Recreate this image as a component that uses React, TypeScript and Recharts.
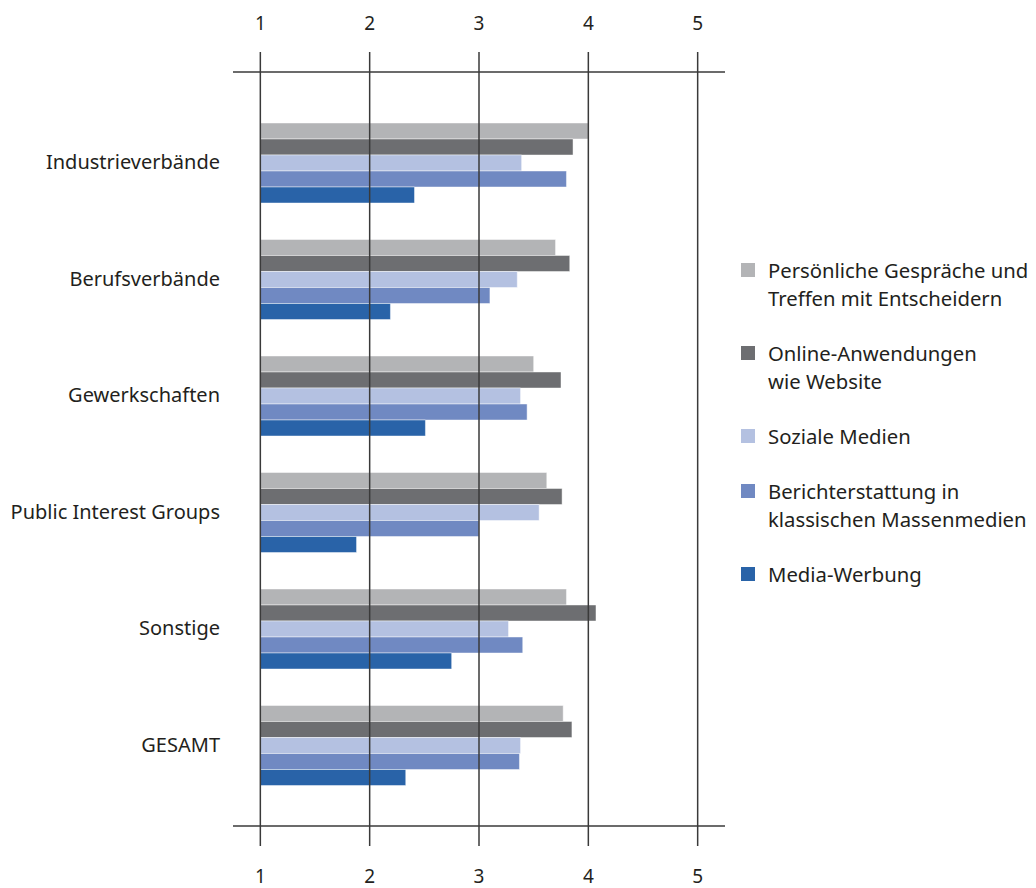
import { Bar, BarChart, Legend, ReferenceLine, XAxis, YAxis } from "recharts";

// Bewertung der Kommunikationskanäle (1 = gering … 5 = hoch), je Verbandstyp
const CATEGORIES = [
  "Industrieverbände",
  "Berufsverbände",
  "Gewerkschaften",
  "Public Interest Groups",
  "Sonstige",
  "GESAMT",
];
const PERSOENLICH = [4.0, 3.7, 3.5, 3.62, 3.8, 3.77];
const ONLINE = [3.86, 3.83, 3.75, 3.76, 4.07, 3.85];
const SOZIALE = [3.39, 3.35, 3.38, 3.55, 3.27, 3.38];
const BERICHT = [3.8, 3.1, 3.44, 3.0, 3.4, 3.37];
const WERBUNG = [2.41, 2.19, 2.51, 1.88, 2.75, 2.33];
const TICKS = [1, 2, 3, 4, 5];

const FONT = "'Noto Sans', sans-serif";
const INK = "#231f20";
const LINE = "#3a3a3a";

const SERIES = [
  { key: "persoenlich", label: ["Persönliche Gespräche und", "Treffen mit Entscheidern"], color: "#b3b4b6" },
  { key: "online", label: ["Online-Anwendungen", "wie Website"], color: "#6d6e71" },
  { key: "soziale", label: ["Soziale Medien"], color: "#b4c1e1" },
  { key: "bericht", label: ["Berichterstattung in", "klassischen Massenmedien"], color: "#7089c2" },
  { key: "werbung", label: ["Media-Werbung"], color: "#2963a8" },
];

const data = CATEGORIES.map((name, i) => ({
  name,
  persoenlich: PERSOENLICH[i],
  online: ONLINE[i],
  soziale: SOZIALE[i],
  bericht: BERICHT[i],
  werbung: WERBUNG[i],
}));

// Balken beginnen bei 1 (Skalenanfang), die Achse reicht links/rechts etwas darüber hinaus
const DOMAIN: [number, number] = [0.75, 5.25];

function KanalLegend() {
  return (
    <div style={{ fontFamily: FONT, fontSize: 20.3, color: INK, lineHeight: "28px" }}>
      {SERIES.map((s) => (
        <div key={s.key} style={{ display: "flex", alignItems: "flex-start", marginBottom: 27 }}>
          <span
            style={{
              width: 14,
              height: 14,
              background: s.color,
              marginTop: 7,
              marginRight: 13,
              flex: "none",
            }}
          />
          <div>
            {s.label.map((l) => (
              <div key={l} style={{ whiteSpace: "nowrap" }}>
                {l}
              </div>
            ))}
          </div>
        </div>
      ))}
    </div>
  );
}

export default function App() {
  const tickStyle = { fill: INK, fontSize: 19, fontFamily: FONT };
  const tickLine = { stroke: LINE, strokeWidth: 1.5 };
  return (
    <BarChart
      width={1020}
      height={880}
      data={data}
      layout="vertical"
      barGap={0}
      barCategoryGap={19}
      margin={{ top: 0, right: 303, bottom: 0, left: 0 }}
    >
      <XAxis
        xAxisId="top"
        type="number"
        orientation="top"
        domain={DOMAIN}
        allowDataOverflow
        ticks={TICKS}
        height={64}
        tickSize={20}
        tickMargin={22}
        stroke={LINE}
        strokeWidth={1.5}
        tickLine={tickLine}
        tick={tickStyle}
      />
      <XAxis
        xAxisId="bottom"
        type="number"
        orientation="bottom"
        domain={DOMAIN}
        allowDataOverflow
        ticks={TICKS}
        height={62}
        tickSize={20}
        tickMargin={24}
        stroke={LINE}
        strokeWidth={1.5}
        tickLine={tickLine}
        tick={tickStyle}
      />
      <YAxis
        type="category"
        dataKey="name"
        width={225}
        padding={{ top: 32, bottom: 23 }}
        axisLine={false}
        tickLine={false}
        tickSize={0}
        tickMargin={13}
        tick={{ fill: INK, fontSize: 20, fontFamily: FONT }}
      />
      <Legend
        layout="vertical"
        align="center"
        verticalAlign="middle"
        wrapperStyle={{ left: 733, top: 248, width: 290 }}
        content={() => <KanalLegend />}
      />
      {SERIES.map((s) => (
        <Bar
          key={s.key}
          xAxisId="top"
          dataKey={(d: Record<string, number>) => [1, d[s.key]]}
          name={s.key}
          fill={s.color}
          stroke="#ffffff"
          strokeOpacity={0.45}
          strokeWidth={1}
          isAnimationActive={false}
        />
      ))}
      {TICKS.map((t) => (
        <ReferenceLine key={t} xAxisId="bottom" x={t} stroke={LINE} strokeWidth={1.5} />
      ))}
    </BarChart>
  );
}
